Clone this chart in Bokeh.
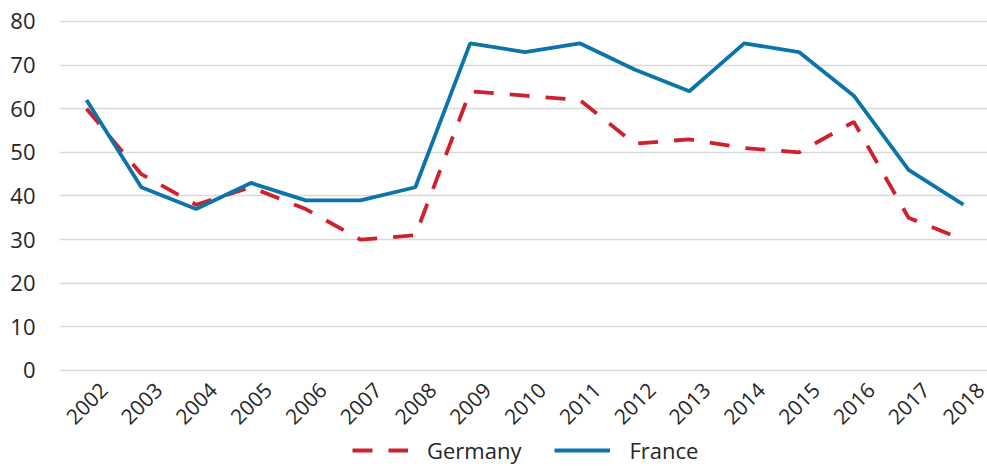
from bokeh.plotting import figure
from bokeh.models import Range1d, FixedTicker, Legend, LegendItem, ColumnDataSource, LabelSet
from bokeh.core.properties import value
from bokeh.embed import file_html
from bokeh.resources import INLINE
import math

years = [2002, 2003, 2004, 2005, 2006, 2007, 2008, 2009, 2010,
         2011, 2012, 2013, 2014, 2015, 2016, 2017, 2018]
germany = [60, 45, 38, 42, 37, 30, 31, 64, 63, 62, 52, 53, 51, 50, 57, 35, 30]
france = [62, 42, 37, 43, 39, 39, 42, 75, 73, 75, 69, 64, 75, 73, 63, 46, 38]
y_ticks = [0, 10, 20, 30, 40, 50, 60, 70, 80]

FONT = "Open Sans"
TXT = "#262626"
FS = "22px"

p = figure(width=987, height=466, output_backend="svg", toolbar_location=None,
           x_range=Range1d(2001.507, 2018.44), y_range=Range1d(-22.006, 80.229),
           min_border_left=59, min_border_right=0, min_border_top=20,
           min_border_bottom=0)
p.outline_line_color = None
p.xgrid.grid_line_color = None
p.xaxis.visible = False
p.ygrid.grid_line_color = "#d9d9d9"
p.ygrid.grid_line_width = 1.6
p.ygrid.ticker = FixedTicker(ticks=y_ticks)
p.yaxis.ticker = FixedTicker(ticks=y_ticks)
ax = p.yaxis[0]
ax.axis_line_color = None
ax.major_tick_line_color = None
ax.minor_tick_line_color = None
ax.major_tick_out = 0
ax.major_tick_in = 0
ax.major_label_text_font = FONT
ax.major_label_text_font_size = FS
ax.major_label_text_color = TXT
ax.major_label_standoff = 24

# category labels under the plot, rotated and centred on each year
lab_src = ColumnDataSource(dict(x=years, y=[-7.45] * len(years),
                                t=[str(y) for y in years]))
labels = LabelSet(x="x", y="y", text="t", source=lab_src, angle=math.pi / 4,
                  text_align="center", text_baseline="middle",
                  text_font=value(FONT), text_font_size=value("21px"),
                  text_color=TXT)
p.add_layout(labels)

rg = p.line(years, germany, line_color="#d0202e", line_width=3.8,
            line_dash="20 16")
rf = p.line(years, france, line_color="#0b74aa", line_width=3.8)

legend = Legend(items=[LegendItem(label="Germany", renderers=[rg]),
                       LegendItem(label="France", renderers=[rf])],
                orientation="horizontal", location=(293, 1),
                background_fill_alpha=0, border_line_color=None,
                label_text_font=FONT, label_text_font_size=FS,
                label_text_color=TXT, glyph_width=56, glyph_height=20,
                spacing=33, label_standoff=19, padding=0, margin=0)
p.add_layout(legend, "center")

open("out.html", "w").write(file_html(p, INLINE))
